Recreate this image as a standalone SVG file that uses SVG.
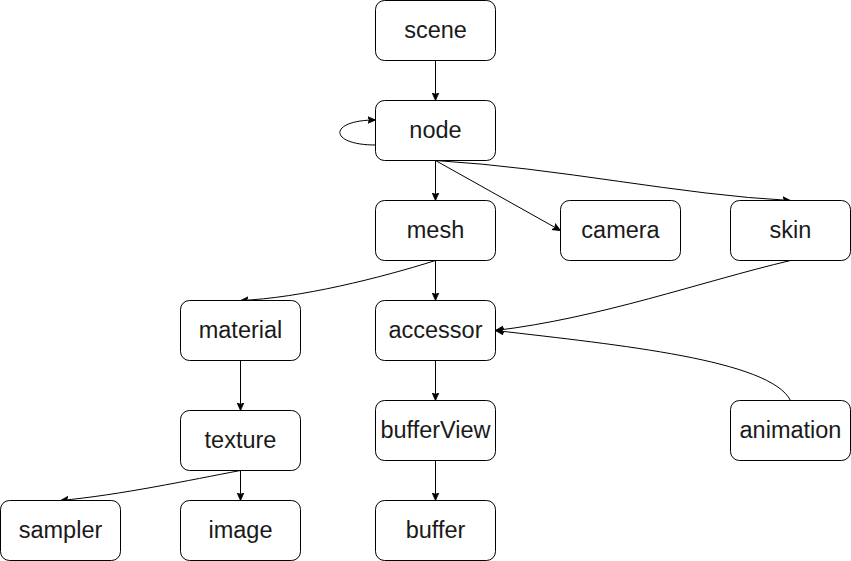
<svg xmlns="http://www.w3.org/2000/svg" width="851" height="561" viewBox="0 0 851 561">
<defs>
<style>
.n rect{fill:#fff;stroke:#000;stroke-width:1}
.n text{font-family:"Liberation Sans",Arial,sans-serif;font-size:23.5px;text-anchor:middle;fill:#1a1a1a}
.e path{fill:none;stroke:#000;stroke-width:1;marker-end:url(#a)}
</style>
<marker id="a" markerUnits="userSpaceOnUse" markerWidth="10" markerHeight="10" refX="8" refY="4" orient="auto">
<path d="M0,0.5 L8,4 L0,7.5 L2,4 z" fill="#000" stroke="#000" stroke-width="0.8"/>
</marker>
</defs>
<rect width="851" height="561" fill="#fff"/>
<g id="edges" class="e">
<path d="M435.5,60.5 L435.5,100.5"/>
<path d="M375.5,145 C328,145 328,120 375.5,120"/>
<path d="M435.5,160.5 L435.5,200.5"/>
<path d="M435.5,160.5 L560.5,230.5"/>
<path d="M435.5,160.5 C560,168 680,195 790.5,200.5"/>
<path d="M435.5,260.5 L435.5,300.5"/>
<path d="M435.5,260.5 C380,278 300,298 240.5,300.5"/>
<path d="M790.5,260.5 C700,282 600,318 495.5,330.5"/>
<path d="M790.5,400.5 C770,360 620,345 495.5,330.5"/>
<path d="M240.5,360.5 L240.5,410.5"/>
<path d="M240.5,470.5 L240.5,500.5"/>
<path d="M240.5,470.5 C190,480 120,495 60.5,500.5"/>
<path d="M435.5,360.5 L435.5,400.5"/>
<path d="M435.5,460.5 L435.5,500.5"/>
</g>
<g id="scene" class="n"><rect x="375.5" y="0.5" width="120" height="60" rx="9"/><text x="435.5" y="37.5">scene</text></g>
<g id="node" class="n"><rect x="375.5" y="100.5" width="120" height="60" rx="9"/><text x="435.5" y="137.5">node</text></g>
<g id="mesh" class="n"><rect x="375.5" y="200.5" width="120" height="60" rx="9"/><text x="435.5" y="237.5">mesh</text></g>
<g id="camera" class="n"><rect x="560.5" y="200.5" width="120" height="60" rx="9"/><text x="620.5" y="237.5">camera</text></g>
<g id="skin" class="n"><rect x="730.5" y="200.5" width="120" height="60" rx="9"/><text x="790.5" y="237.5">skin</text></g>
<g id="material" class="n"><rect x="180.5" y="300.5" width="120" height="60" rx="9"/><text x="240.5" y="337.5">material</text></g>
<g id="accessor" class="n"><rect x="375.5" y="300.5" width="120" height="60" rx="9"/><text x="435.5" y="337.5">accessor</text></g>
<g id="texture" class="n"><rect x="180.5" y="410.5" width="120" height="60" rx="9"/><text x="240.5" y="447.5">texture</text></g>
<g id="bufferView" class="n"><rect x="375.5" y="400.5" width="120" height="60" rx="9"/><text x="435.5" y="437.5">bufferView</text></g>
<g id="animation" class="n"><rect x="730.5" y="400.5" width="120" height="60" rx="9"/><text x="790.5" y="437.5">animation</text></g>
<g id="sampler" class="n"><rect x="0.5" y="500.5" width="120" height="60" rx="9"/><text x="60.5" y="537.5">sampler</text></g>
<g id="image" class="n"><rect x="180.5" y="500.5" width="120" height="60" rx="9"/><text x="240.5" y="537.5">image</text></g>
<g id="buffer" class="n"><rect x="375.5" y="500.5" width="120" height="60" rx="9"/><text x="435.5" y="537.5">buffer</text></g>
</svg>
